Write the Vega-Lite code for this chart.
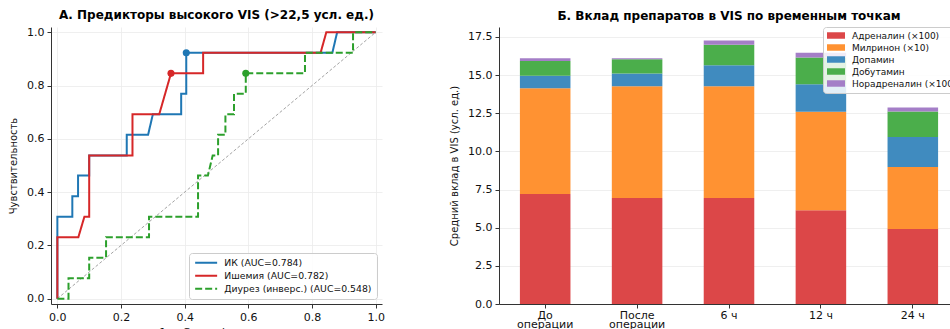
{
  "$schema": "https://vega.github.io/schema/vega-lite/v6.json",
  "background": "white",
  "padding": {"left": 8, "top": 9, "right": 0, "bottom": 0},
  "spacing": 64,
  "resolve": {"scale": {"color": "independent", "strokeDash": "independent"}, "legend": {"color": "independent", "strokeDash": "independent"}},
  "config": {
    "font": "DejaVu Sans",
    "view": {"stroke": null},
    "axis": {
      "labelFont": "DejaVu Sans", "labelFontSize": 11, "labelColor": "#111",
      "titleFont": "DejaVu Sans", "titleFontWeight": "normal", "titleColor": "#111",
      "domainColor": "#333", "domainWidth": 1, "tickColor": "#333", "tickSize": 4,
      "labelPadding": 3, "gridColor": "#ebebeb", "gridWidth": 0.8
    },
    "title": {"font": "DejaVu Sans", "fontSize": 12, "fontWeight": "bold", "color": "#000", "offset": 4, "anchor": "middle"},
    "legend": {"labelFont": "DejaVu Sans", "labelColor": "#111"}
  },
  "datasets": {
    "diag": [{"x": 0, "y": 0}, {"x": 1, "y": 1}],
    "roc": [
      {"model": "ИК (AUC=0.784)", "x": 0, "y": 0},
      {"model": "ИК (AUC=0.784)", "x": 0, "y": 0.308},
      {"model": "ИК (AUC=0.784)", "x": 0.047, "y": 0.308},
      {"model": "ИК (AUC=0.784)", "x": 0.047, "y": 0.385},
      {"model": "ИК (AUC=0.784)", "x": 0.065, "y": 0.385},
      {"model": "ИК (AUC=0.784)", "x": 0.065, "y": 0.462},
      {"model": "ИК (AUC=0.784)", "x": 0.1, "y": 0.462},
      {"model": "ИК (AUC=0.784)", "x": 0.1, "y": 0.538},
      {"model": "ИК (AUC=0.784)", "x": 0.218, "y": 0.538},
      {"model": "ИК (AUC=0.784)", "x": 0.218, "y": 0.615},
      {"model": "ИК (AUC=0.784)", "x": 0.285, "y": 0.615},
      {"model": "ИК (AUC=0.784)", "x": 0.3, "y": 0.692},
      {"model": "ИК (AUC=0.784)", "x": 0.389, "y": 0.692},
      {"model": "ИК (AUC=0.784)", "x": 0.389, "y": 0.769},
      {"model": "ИК (AUC=0.784)", "x": 0.405, "y": 0.769},
      {"model": "ИК (AUC=0.784)", "x": 0.405, "y": 0.923},
      {"model": "ИК (AUC=0.784)", "x": 0.864, "y": 0.923},
      {"model": "ИК (AUC=0.784)", "x": 0.879, "y": 1.0},
      {"model": "ИК (AUC=0.784)", "x": 1.0, "y": 1.0},
      {"model": "Ишемия (AUC=0.782)", "x": 0, "y": 0},
      {"model": "Ишемия (AUC=0.782)", "x": 0, "y": 0.231},
      {"model": "Ишемия (AUC=0.782)", "x": 0.066, "y": 0.231},
      {"model": "Ишемия (AUC=0.782)", "x": 0.085, "y": 0.308},
      {"model": "Ишемия (AUC=0.782)", "x": 0.1, "y": 0.308},
      {"model": "Ишемия (AUC=0.782)", "x": 0.1, "y": 0.538},
      {"model": "Ишемия (AUC=0.782)", "x": 0.236, "y": 0.538},
      {"model": "Ишемия (AUC=0.782)", "x": 0.236, "y": 0.692},
      {"model": "Ишемия (AUC=0.782)", "x": 0.32, "y": 0.692},
      {"model": "Ишемия (AUC=0.782)", "x": 0.357, "y": 0.846},
      {"model": "Ишемия (AUC=0.782)", "x": 0.458, "y": 0.846},
      {"model": "Ишемия (AUC=0.782)", "x": 0.458, "y": 0.923},
      {"model": "Ишемия (AUC=0.782)", "x": 0.827, "y": 0.923},
      {"model": "Ишемия (AUC=0.782)", "x": 0.845, "y": 1.0},
      {"model": "Ишемия (AUC=0.782)", "x": 1.0, "y": 1.0},
      {"model": "Диурез (инверс.) (AUC=0.548)", "x": 0, "y": 0},
      {"model": "Диурез (инверс.) (AUC=0.548)", "x": 0.035, "y": 0},
      {"model": "Диурез (инверс.) (AUC=0.548)", "x": 0.035, "y": 0.077},
      {"model": "Диурез (инверс.) (AUC=0.548)", "x": 0.1, "y": 0.077},
      {"model": "Диурез (инверс.) (AUC=0.548)", "x": 0.1, "y": 0.154},
      {"model": "Диурез (инверс.) (AUC=0.548)", "x": 0.153, "y": 0.154},
      {"model": "Диурез (инверс.) (AUC=0.548)", "x": 0.153, "y": 0.231},
      {"model": "Диурез (инверс.) (AUC=0.548)", "x": 0.288, "y": 0.231},
      {"model": "Диурез (инверс.) (AUC=0.548)", "x": 0.288, "y": 0.308},
      {"model": "Диурез (инверс.) (AUC=0.548)", "x": 0.442, "y": 0.308},
      {"model": "Диурез (инверс.) (AUC=0.548)", "x": 0.442, "y": 0.462},
      {"model": "Диурез (инверс.) (AUC=0.548)", "x": 0.473, "y": 0.462},
      {"model": "Диурез (инверс.) (AUC=0.548)", "x": 0.488, "y": 0.538},
      {"model": "Диурез (инверс.) (AUC=0.548)", "x": 0.505, "y": 0.538},
      {"model": "Диурез (инверс.) (AUC=0.548)", "x": 0.505, "y": 0.615},
      {"model": "Диурез (инверс.) (AUC=0.548)", "x": 0.528, "y": 0.615},
      {"model": "Диурез (инверс.) (AUC=0.548)", "x": 0.528, "y": 0.692},
      {"model": "Диурез (инверс.) (AUC=0.548)", "x": 0.555, "y": 0.692},
      {"model": "Диурез (инверс.) (AUC=0.548)", "x": 0.555, "y": 0.769},
      {"model": "Диурез (инверс.) (AUC=0.548)", "x": 0.592, "y": 0.769},
      {"model": "Диурез (инверс.) (AUC=0.548)", "x": 0.592, "y": 0.846},
      {"model": "Диурез (инверс.) (AUC=0.548)", "x": 0.778, "y": 0.846},
      {"model": "Диурез (инверс.) (AUC=0.548)", "x": 0.778, "y": 0.923},
      {"model": "Диурез (инверс.) (AUC=0.548)", "x": 0.929, "y": 0.923},
      {"model": "Диурез (инверс.) (AUC=0.548)", "x": 0.929, "y": 1.0},
      {"model": "Диурез (инверс.) (AUC=0.548)", "x": 1.0, "y": 1.0}
    ],
    "opt": [
      {"model": "ИК (AUC=0.784)", "x": 0.405, "y": 0.923},
      {"model": "Ишемия (AUC=0.782)", "x": 0.357, "y": 0.846},
      {"model": "Диурез (инверс.) (AUC=0.548)", "x": 0.592, "y": 0.846}
    ],
    "bars": [
      {"t": "До\nоперации", "drug": "Адреналин (×100)", "k": 1, "v": 7.2},
      {"t": "До\nоперации", "drug": "Милринон (×10)", "k": 2, "v": 6.94},
      {"t": "До\nоперации", "drug": "Допамин", "k": 3, "v": 0.81},
      {"t": "До\nоперации", "drug": "Добутамин", "k": 4, "v": 0.98},
      {"t": "До\nоперации", "drug": "Норадреналин (×100)", "k": 5, "v": 0.17},
      {"t": "После\nоперации", "drug": "Адреналин (×100)", "k": 1, "v": 6.94},
      {"t": "После\nоперации", "drug": "Милринон (×10)", "k": 2, "v": 7.33},
      {"t": "После\nоперации", "drug": "Допамин", "k": 3, "v": 0.83},
      {"t": "После\nоперации", "drug": "Добутамин", "k": 4, "v": 0.94},
      {"t": "После\nоперации", "drug": "Норадреналин (×100)", "k": 5, "v": 0.07},
      {"t": "6 ч", "drug": "Адреналин (×100)", "k": 1, "v": 6.94},
      {"t": "6 ч", "drug": "Милринон (×10)", "k": 2, "v": 7.33},
      {"t": "6 ч", "drug": "Допамин", "k": 3, "v": 1.37},
      {"t": "6 ч", "drug": "Добутамин", "k": 4, "v": 1.34},
      {"t": "6 ч", "drug": "Норадреналин (×100)", "k": 5, "v": 0.28},
      {"t": "12 ч", "drug": "Адреналин (×100)", "k": 1, "v": 6.15},
      {"t": "12 ч", "drug": "Милринон (×10)", "k": 2, "v": 6.44},
      {"t": "12 ч", "drug": "Допамин", "k": 3, "v": 1.81},
      {"t": "12 ч", "drug": "Добутамин", "k": 4, "v": 1.75},
      {"t": "12 ч", "drug": "Норадреналин (×100)", "k": 5, "v": 0.32},
      {"t": "24 ч", "drug": "Адреналин (×100)", "k": 1, "v": 4.91},
      {"t": "24 ч", "drug": "Милринон (×10)", "k": 2, "v": 4.06},
      {"t": "24 ч", "drug": "Допамин", "k": 3, "v": 1.98},
      {"t": "24 ч", "drug": "Добутамин", "k": 4, "v": 1.66},
      {"t": "24 ч", "drug": "Норадреналин (×100)", "k": 5, "v": 0.26}
    ]
  },
  "hconcat": [
    {
      "title": "А. Предикторы высокого VIS (>22,5 усл. ед.)",
      "width": 331,
      "height": 277,
      "encoding": {
        "x": {"field": "x", "type": "quantitative",
          "scale": {"domain": [-0.02, 1.02], "nice": false, "zero": false},
          "axis": {"title": "1 − Специфичность", "titleFontSize": 11, "titlePadding": 4, "values": [0, 0.2, 0.4, 0.6, 0.8, 1.0], "format": ".1f", "grid": true}},
        "y": {"field": "y", "type": "quantitative",
          "scale": {"domain": [-0.02, 1.02], "nice": false, "zero": false},
          "axis": {"title": "Чувствительность", "titleFontSize": 10, "titlePadding": 8, "values": [0, 0.2, 0.4, 0.6, 0.8, 1.0], "format": ".1f", "grid": true}}
      },
      "layer": [
        {
          "data": {"name": "diag"},
          "mark": {"type": "line", "color": "#999999", "strokeWidth": 0.9, "strokeDash": [3, 2]},
          "encoding": {}
        },
        {
          "data": {"name": "roc"},
          "mark": {"type": "line", "strokeWidth": 2},
          "encoding": {
            "order": {"value": null},
            "color": {"field": "model", "type": "nominal",
              "scale": {"domain": ["ИК (AUC=0.784)", "Ишемия (AUC=0.782)", "Диурез (инверс.) (AUC=0.548)"], "range": ["#1f77b4", "#d62728", "#2ca02c"]},
              "legend": {"title": null, "orient": "bottom-right", "offset": 5, "symbolType": "M-3.14,0L3.14,0", "symbolSize": 49, "symbolStrokeWidth": 2, "symbolOffset": 7.5, "labelOffset": 13.5, "labelFontSize": 9.3, "rowPadding": 3, "fillColor": "rgba(255,255,255,0.85)", "strokeColor": "#cccccc", "cornerRadius": 3, "padding": 5}},
            "strokeDash": {"field": "model", "type": "nominal",
              "scale": {"domain": ["ИК (AUC=0.784)", "Ишемия (AUC=0.782)", "Диурез (инверс.) (AUC=0.548)"], "range": [[1, 0], [1, 0], [7, 3]]},
              "legend": {"title": null, "orient": "bottom-right", "offset": 5, "symbolType": "M-3.14,0L3.14,0", "symbolSize": 49, "symbolStrokeWidth": 2, "symbolOffset": 7.5, "labelOffset": 13.5, "labelFontSize": 9.3, "rowPadding": 3, "fillColor": "rgba(255,255,255,0.85)", "strokeColor": "#cccccc", "cornerRadius": 3, "padding": 5}}
          }
        },
        {
          "data": {"name": "opt"},
          "mark": {"type": "point", "filled": true, "size": 50, "opacity": 1},
          "encoding": {
            "color": {"field": "model", "type": "nominal",
              "legend": {"title": null, "orient": "bottom-right", "offset": 5, "symbolType": "M-3.14,0L3.14,0", "symbolSize": 49, "symbolStrokeWidth": 2, "symbolOffset": 7.5, "labelOffset": 13.5, "labelFontSize": 9.3, "rowPadding": 3, "fillColor": "rgba(255,255,255,0.85)", "strokeColor": "#cccccc", "cornerRadius": 3, "padding": 5}}
          }
        }
      ]
    },
    {
      "title": "Б. Вклад препаратов в VIS по временным точкам",
      "width": 460,
      "height": 277,
      "data": {"name": "bars"},
      "mark": {"type": "bar"},
      "encoding": {
        "x": {"field": "t", "type": "nominal", "sort": null,
          "scale": {"paddingInner": 0.45, "paddingOuter": 0.2275},
          "axis": {"title": null, "labelAngle": 0, "labelExpr": "split(datum.label, '\\n')", "labelLineHeight": 9, "labelPadding": 1, "labelFontSize": 11, "grid": false}},
        "y": {"field": "v", "type": "quantitative", "stack": "zero",
          "scale": {"domain": [0, 18.15], "nice": false},
          "axis": {"title": "Средний вклад в VIS (усл. ед.)", "titleFontSize": 10, "titlePadding": 8, "values": [0, 2.5, 5, 7.5, 10, 12.5, 15, 17.5], "format": ".1f", "grid": true}},
        "color": {"field": "drug", "type": "nominal",
          "scale": {"domain": ["Адреналин (×100)", "Милринон (×10)", "Допамин", "Добутамин", "Норадреналин (×100)"], "range": ["#dc4748", "#ff9232", "#408bbf", "#4bae4b", "#a47ec7"]},
          "legend": {"title": null, "orient": "none", "legendX": 324, "legendY": 0, "symbolType": "M-2,-0.72L2,-0.72L2,0.72L-2,0.72Z", "symbolSize": 81, "symbolStrokeWidth": 0, "symbolOffset": 4.5, "labelOffset": 11.5, "labelFontSize": 9, "rowPadding": 2, "fillColor": "rgba(255,255,255,0.85)", "strokeColor": "#cccccc", "cornerRadius": 3, "padding": 4}},
        "order": {"field": "k", "type": "quantitative"}
      }
    }
  ]
}
